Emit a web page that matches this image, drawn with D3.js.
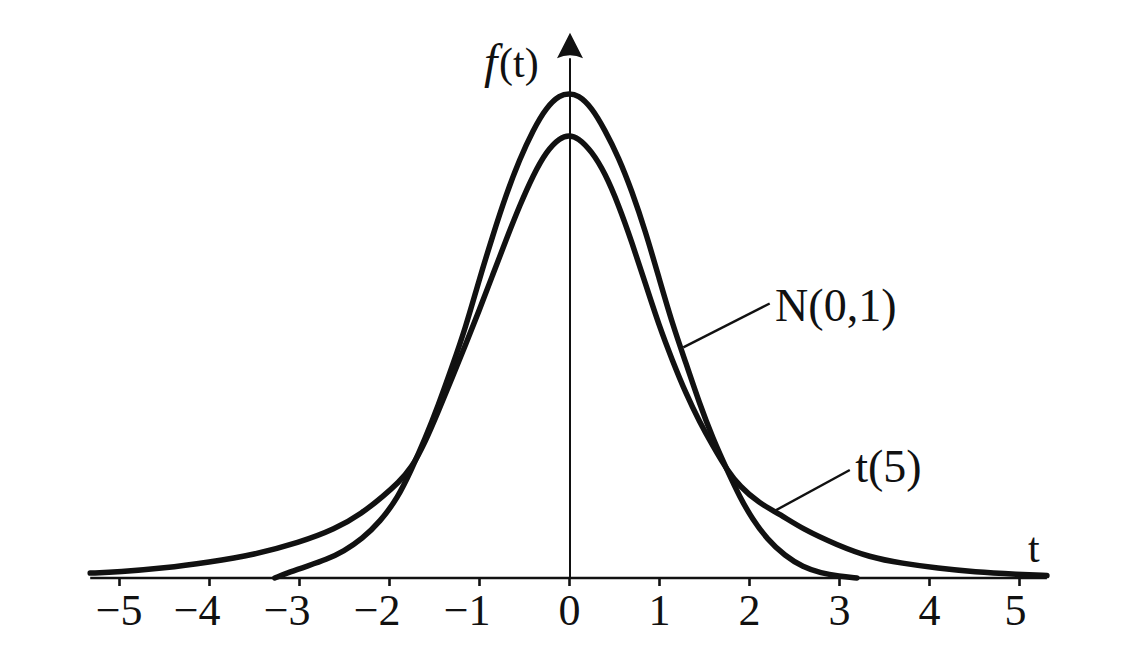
<!DOCTYPE html>
<html><head><meta charset="utf-8">
<script src="https://cdn.jsdelivr.net/npm/d3@7"></script>
<style>
html,body{margin:0;padding:0;background:#fff;}
svg{display:block;}
text{font-family:"Liberation Serif","Times New Roman",serif;fill:#111;}
</style></head><body>
<svg id="chart" width="1139" height="648"></svg>
<script>
// Values (t, density)
const normalT = [-3.27,-3.1,-2.9,-2.7,-2.5,-2.3,-2.1,-1.9,-1.75,-1.6,-1.45,-1.3,-1.15,-1.0,-0.85,-0.7,-0.55,-0.4,-0.25,-0.1,0,0.1,0.25,0.4,0.55,0.7,0.85,1.0,1.15,1.3,1.45,1.6,1.76,1.9,2.04,2.2,2.4,2.6,2.8,3.0,3.2];
const normalDensity = [0.000,0.005,0.010,0.015,0.022,0.032,0.046,0.066,0.089,0.114,0.142,0.173,0.205,0.244,0.280,0.314,0.343,0.367,0.386,0.396,0.397,0.396,0.386,0.367,0.345,0.317,0.284,0.246,0.208,0.176,0.143,0.114,0.088,0.066,0.048,0.032,0.018,0.009,0.004,0.0015,0.000];
const t5T = [-5.32,-5.0,-4.5,-4.0,-3.5,-3.0,-2.6,-2.3,-2.05,-1.9,-1.75,-1.6,-1.45,-1.3,-1.15,-1.0,-0.85,-0.7,-0.55,-0.4,-0.25,-0.1,0,0.1,0.25,0.4,0.55,0.7,0.85,1.0,1.15,1.3,1.45,1.6,1.76,1.9,2.1,2.35,2.6,2.98,3.34,3.7,4.1,4.5,5.0,5.31];
const t5Density = [0.004,0.005,0.008,0.013,0.019,0.029,0.040,0.053,0.068,0.078,0.090,0.111,0.137,0.164,0.191,0.219,0.248,0.277,0.305,0.330,0.350,0.361,0.363,0.361,0.350,0.332,0.306,0.275,0.241,0.207,0.178,0.151,0.128,0.108,0.088,0.075,0.062,0.052,0.040,0.027,0.017,0.012,0.008,0.005,0.003,0.002];
const tickValues = [-5,-4,-3,-2,-1,0,1,2,3,4,5];
const tickLabels = ["−5","−4","−3","−2","−1","0","1","2","3","4","5"];
const seriesNames = ["N(0,1)","t(5)"];
const xAxisTitle = "t";
const yAxisTitleItalic = "f";
const yAxisTitleRest = "(t)";

const svg = d3.select("#chart");
const ink = "#111";
const x = d3.scaleLinear().domain([-5,5]).range([119,1019]);
const y = d3.scaleLinear().domain([0,0.4]).range([578,90]);

// horizontal axis
svg.append("line")
  .attr("x1", x(-5.32)).attr("x2", x(5.31))
  .attr("y1", y(0)).attr("y2", y(0))
  .attr("stroke", ink).attr("stroke-width", 2.6);

const xAxis = d3.axisBottom(x).tickValues(tickValues).tickSize(8).tickSizeOuter(0)
  .tickFormat((d,i) => tickLabels[i]);
const gx = svg.append("g").attr("transform", `translate(0,${y(0)})`).call(xAxis);
gx.attr("font-family", null).attr("font-size", null);
gx.select(".domain").remove();
gx.selectAll(".tick line").attr("stroke", ink).attr("stroke-width", 2.6);
gx.selectAll(".tick text")
  .attr("fill", ink).attr("font-size", 44)
  .attr("y", 47).attr("dy", 0)
  .attr("text-anchor", d => d < 0 ? "end" : "middle")
  .attr("x", d => d < 0 ? (d === -5 ? 23 : 11) : (d === 5 ? -4 : 0));

// vertical axis with arrow
const x0 = x(0) + 1;
const tipY = y(0.447), baseY = y(0.426);
svg.append("line")
  .attr("x1", x0).attr("x2", x0).attr("y1", y(0)).attr("y2", baseY)
  .attr("stroke", ink).attr("stroke-width", 2);
svg.append("path")
  .attr("d", `M${x0},${tipY} L${x0+13},${baseY} Q${x0},${baseY-6} ${x0-13},${baseY} Z`)
  .attr("fill", ink);

// curves
const line = d3.line().x(d => x(d[0])).y(d => y(d[1])).curve(d3.curveBasis);
[[normalT, normalDensity],[t5T, t5Density]].forEach(([ts, ds]) => {
  svg.append("path").datum(d3.zip(ts, ds))
    .attr("d", line).attr("fill", "none").attr("stroke", ink)
    .attr("stroke-width", 5.5).attr("stroke-linecap", "round").attr("stroke-linejoin", "round");
});

// leader lines and labels
svg.append("line")
  .attr("x1", x(1.27)).attr("y1", y(0.189)).attr("x2", x(2.23)).attr("y2", y(0.225))
  .attr("stroke", ink).attr("stroke-width", 2.4);
svg.append("text").attr("x", x(2.29)).attr("y", y(0.211))
  .attr("font-size", 46).text(seriesNames[0]);

svg.append("line")
  .attr("x1", x(2.26)).attr("y1", y(0.054)).attr("x2", x(3.12)).attr("y2", y(0.0885))
  .attr("stroke", ink).attr("stroke-width", 2.4);
svg.append("text").attr("x", x(3.18)).attr("y", y(0.079))
  .attr("font-size", 46).text(seriesNames[1]);

// axis titles
svg.append("text").attr("x", x(5.1)).attr("y", y(0.013))
  .attr("font-size", 42).text(xAxisTitle);
svg.append("text").attr("x", x0 - 86).attr("y", 78).attr("font-size", 48)
  .attr("font-style", "italic").text(yAxisTitleItalic);
svg.append("text").attr("x", x0 - 71).attr("y", 77).attr("font-size", 42)
  .text(yAxisTitleRest);
</script>
</body></html>
